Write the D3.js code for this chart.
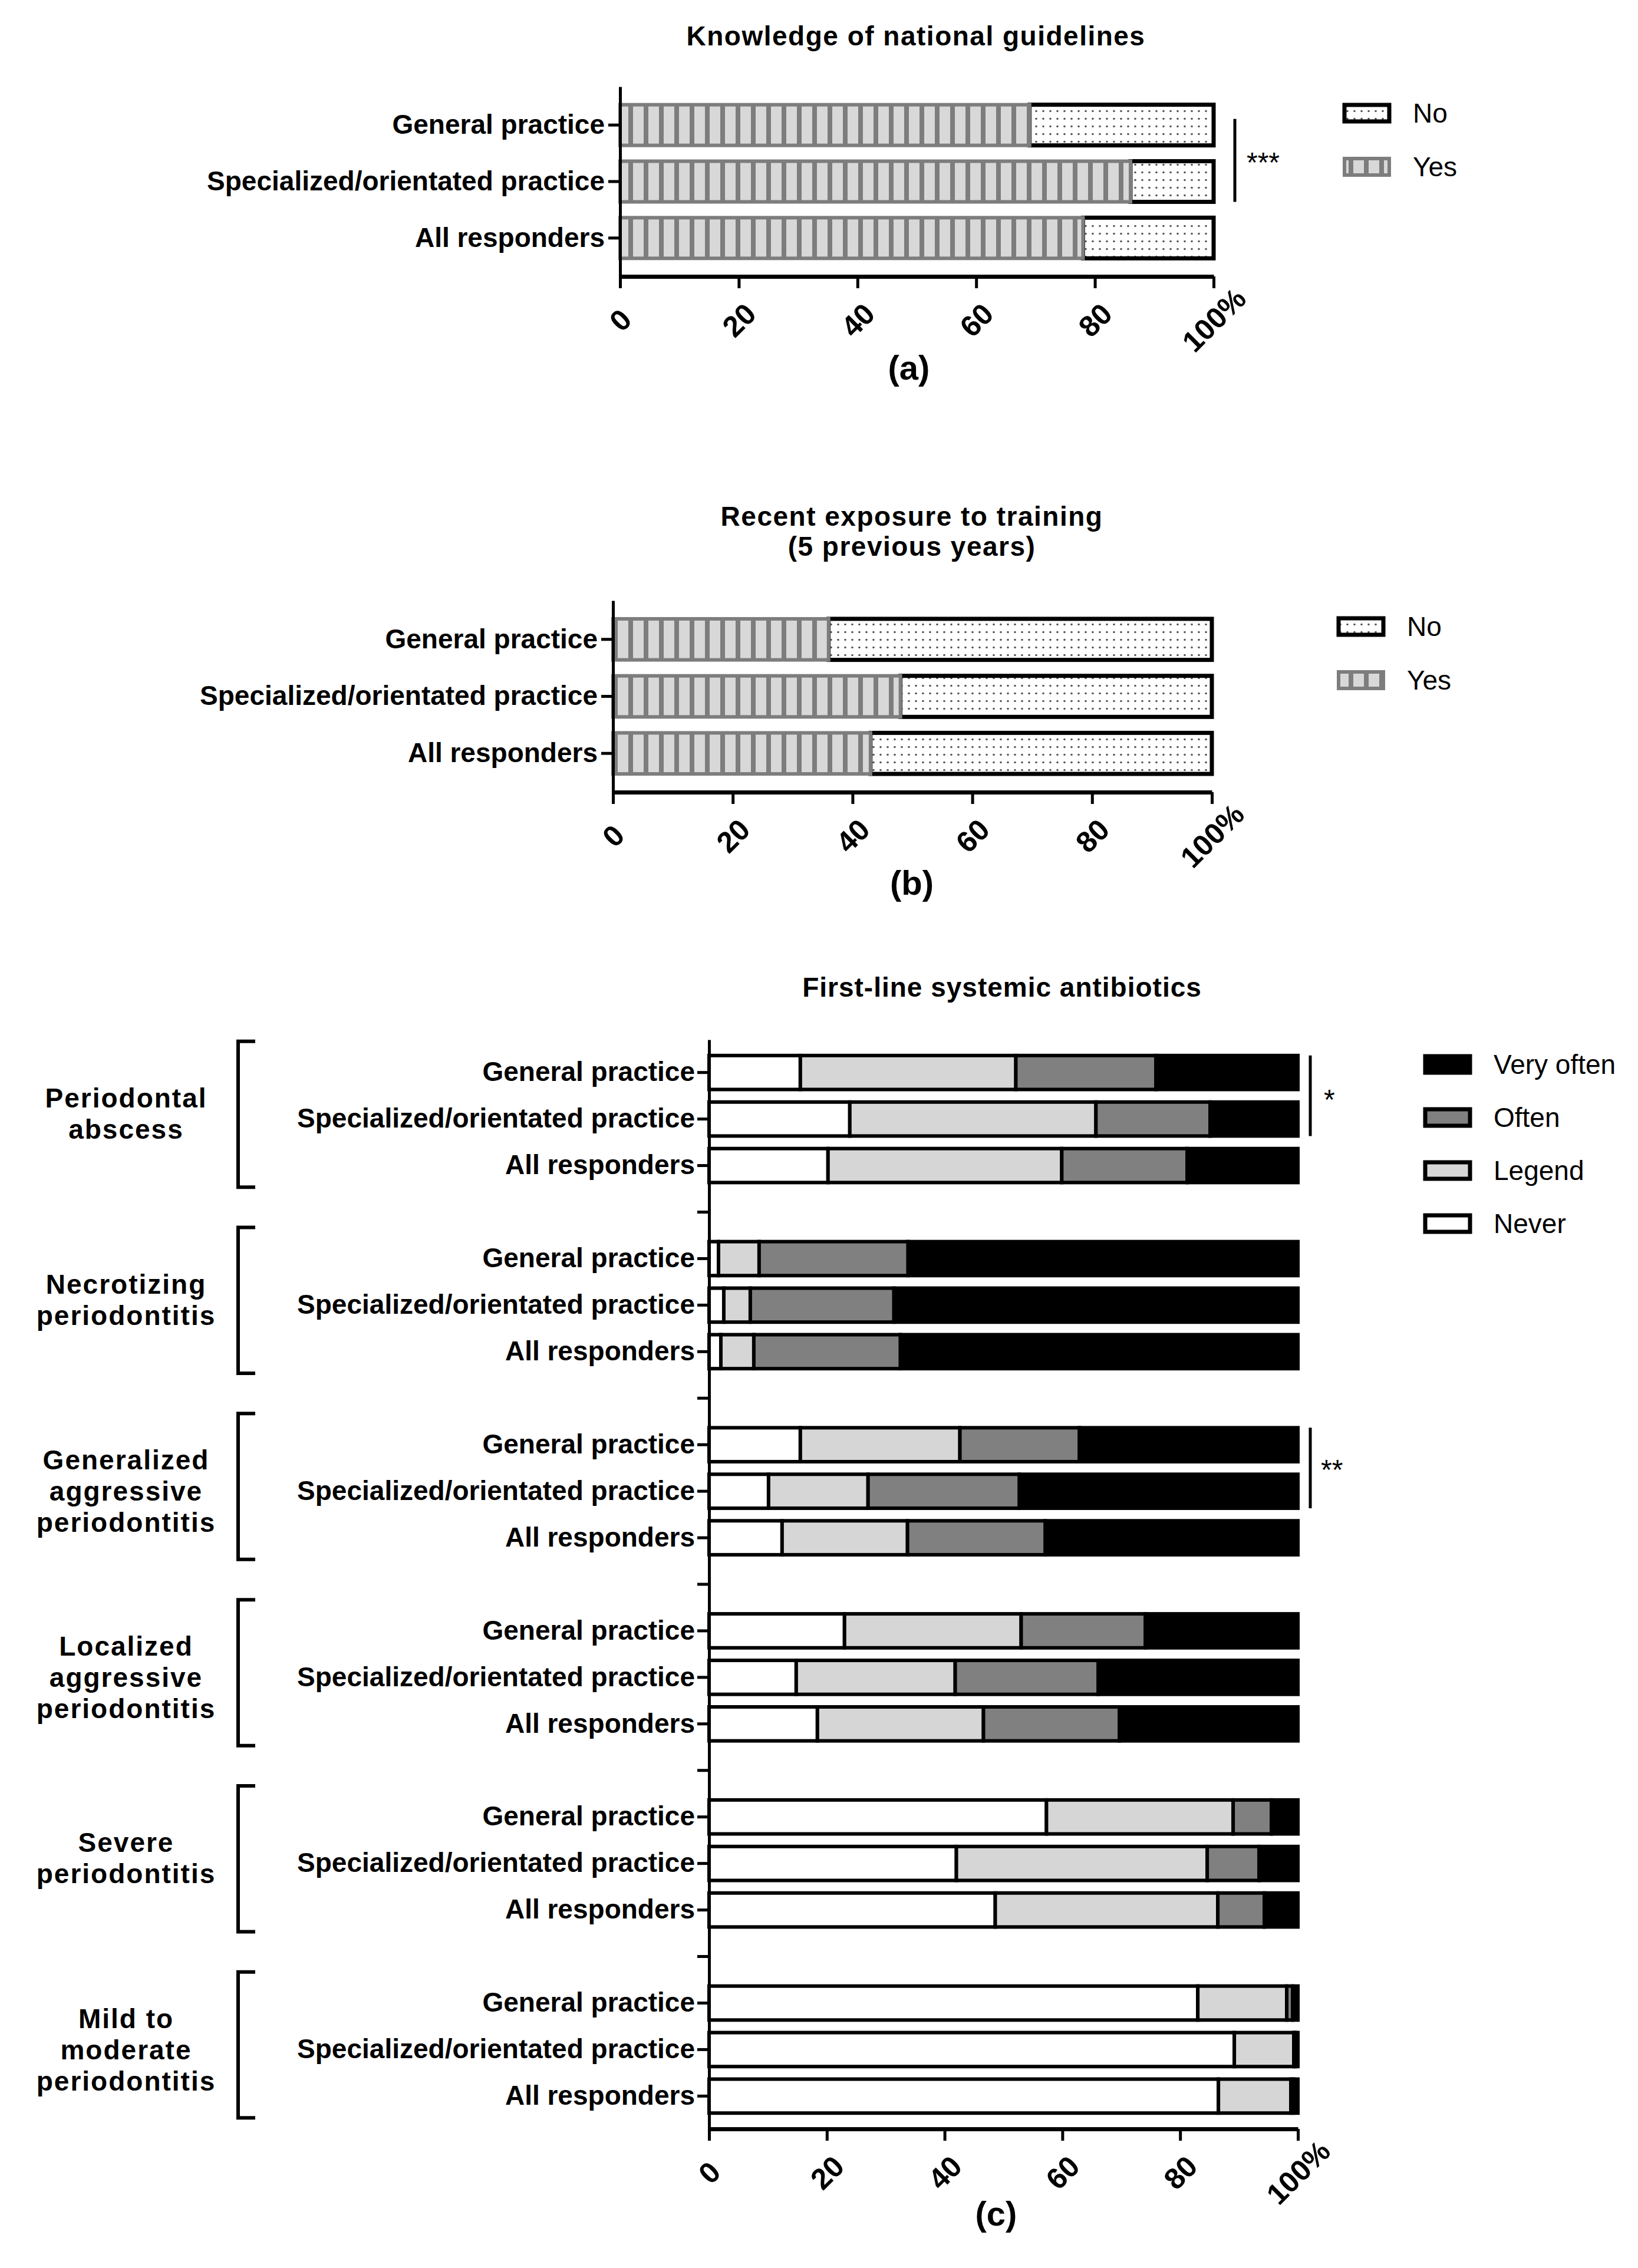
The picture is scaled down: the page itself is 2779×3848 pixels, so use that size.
<!DOCTYPE html>
<html>
<head>
<meta charset="utf-8">
<script src="https://cdn.jsdelivr.net/npm/d3@7"></script>
<style>
body{margin:0;background:#fff}
svg{display:block}
text{font-family:"Liberation Sans",Arial,Helvetica,sans-serif}
</style>
</head>
<body>
<svg id="chart" width="2779" height="3848"></svg>
<script>
// ---------------- DATA ----------------
const respondentGroups = ["General practice", "Specialized/orientated practice", "All responders"];
const knowledgeYes = [69, 86, 78];
const knowledgeNo  = [31, 14, 22];
const trainingYes  = [36, 48, 43];
const trainingNo   = [64, 52, 57];
const xTickValues = [0, 20, 40, 60, 80, 100];
const xTickLabels = ["0", "20", "40", "60", "80", "100%"];
const yesNoKeys = ["Yes", "No"];

const conditionLabels = [
  ["Periodontal", "abscess"],
  ["Necrotizing", "periodontitis"],
  ["Generalized", "aggressive", "periodontitis"],
  ["Localized", "aggressive", "periodontitis"],
  ["Severe", "periodontitis"],
  ["Mild to", "moderate", "periodontitis"]
];
const freqKeys = ["Never", "Legend", "Often", "Very often"];
// order: for each condition -> General practice, Specialized, All responders
const neverVals     = [15.5, 23.9, 20.2,  1.6,  2.5,  2.0, 15.5, 10.1, 12.4, 23.0, 14.8, 18.4, 57.3, 42.0, 48.6, 83.0, 89.2, 86.5];
const legendVals    = [36.6, 41.8, 39.7,  6.9,  4.5,  5.6, 27.1, 16.9, 21.3, 30.0, 27.0, 28.2, 31.7, 42.6, 37.8, 15.1, 10.1, 12.3];
const oftenVals     = [23.8, 19.4, 21.3, 25.3, 24.4, 24.9, 20.3, 25.7, 23.4, 21.1, 24.3, 23.1,  6.5,  8.8,  7.9,  1.0,  0.3,  0.5];
const veryOftenVals = [24.1, 14.9, 18.8, 66.2, 68.6, 67.5, 37.1, 47.3, 42.9, 25.9, 33.9, 30.3,  4.5,  6.6,  5.7,  0.9,  0.4,  0.7];

// ---------------- SETUP ----------------
const FONT = '"Liberation Sans",Arial,Helvetica,sans-serif';
const svg = d3.select("#chart");
svg.append("rect").attr("width", 2779).attr("height", 3848).attr("fill", "#fff");
const defs = svg.append("defs");

const stripes = defs.append("pattern").attr("id", "stripes")
  .attr("patternUnits", "userSpaceOnUse").attr("width", 26).attr("height", 20);
stripes.append("rect").attr("width", 26).attr("height", 20).attr("fill", "#d8d8d8");
stripes.append("rect").attr("width", 8).attr("height", 20).attr("fill", "#7d7d7d");

const dots = defs.append("pattern").attr("id", "dots")
  .attr("patternUnits", "userSpaceOnUse").attr("width", 12).attr("height", 13);
dots.append("rect").attr("width", 12).attr("height", 13).attr("fill", "#fff");
dots.append("circle").attr("cx", 6).attr("cy", 6.5).attr("r", 1.8).attr("fill", "#555");

function styleAxis(g, domainW, tickW) {
  g.attr("font-family", FONT).attr("font-size", 46).attr("font-weight", "bold");
  g.select(".domain").attr("stroke", "#000").attr("stroke-width", domainW);
  g.selectAll(".tick line").attr("stroke", "#000").attr("stroke-width", tickW);
  g.selectAll(".tick text").attr("fill", "#000");
}

function drawXAxis(x, yPos) {
  const g = svg.append("g").attr("transform", `translate(0,${yPos})`)
    .call(d3.axisBottom(x).tickValues(xTickValues)
      .tickFormat((d, i) => xTickLabels[i]).tickSize(20).tickSizeOuter(0));
  styleAxis(g, 7, 5);
  g.selectAll(".tick text")
    .attr("font-size", 50)
    .attr("y", 0).attr("dy", "0.35em").attr("text-anchor", "middle")
    .attr("transform", "translate(0,74) rotate(-45)");
  return g;
}

function text(x, y, str, opts = {}) {
  return svg.append("text").attr("x", x).attr("y", y)
    .attr("font-size", opts.size || 46)
    .attr("font-weight", opts.weight || "bold")
    .attr("text-anchor", opts.anchor || "middle")
    .attr("letter-spacing", opts.ls || 0)
    .attr("fill", "#000")
    .text(str);
}

// ---------------- PANELS (a) & (b) ----------------
function drawYesNo(cfg) {
  const x = d3.scaleLinear().domain([0, 100]).range([cfg.x0, cfg.x1]);
  const y = d3.scaleBand().domain(respondentGroups).range([cfg.yTop, cfg.yBot])
    .paddingInner(0.28).paddingOuter(0.32);
  const rows = respondentGroups.map((gname, i) => ({ group: gname, Yes: cfg.yes[i], No: cfg.no[i] }));
  const series = d3.stack().keys(yesNoKeys)(rows);

  // No segments (drawn first, black outline, dotted)
  svg.append("g").selectAll("rect").data(series[1]).join("rect")
    .attr("x", d => x(d[0])).attr("width", d => x(d[1]) - x(d[0]))
    .attr("y", d => y(d.data.group)).attr("height", y.bandwidth())
    .attr("fill", "url(#dots)").attr("stroke", "#000").attr("stroke-width", 7);
  // Yes segments (grey striped)
  svg.append("g").selectAll("rect").data(series[0]).join("rect")
    .attr("x", d => x(d[0])).attr("width", d => x(d[1]) - x(d[0]))
    .attr("y", d => y(d.data.group)).attr("height", y.bandwidth())
    .attr("fill", "url(#stripes)").attr("stroke", "#7d7d7d").attr("stroke-width", 6);

  const gy = svg.append("g").attr("transform", `translate(${cfg.x0},0)`)
    .call(d3.axisLeft(y).tickSize(20).tickSizeOuter(0).tickPadding(6));
  styleAxis(gy, 5, 5);
  drawXAxis(x, cfg.yBot);

  // titles
  cfg.title.forEach((t, i) => text(cfg.titleX, cfg.titleY + i * 51, t, { ls: 1.5 }).attr("dy", "0.35em"));
  // panel label
  text(cfg.labelX, cfg.labelY, cfg.label, { size: 58 }).attr("dy", "0.35em");

  // legend
  const legendItems = [
    { key: "No", fill: "url(#dots)", stroke: "#000", sw: 7 },
    { key: "Yes", fill: "url(#stripes)", stroke: "#7d7d7d", sw: 6 }
  ];
  legendItems.forEach((it, i) => {
    const cy = cfg.legendY + i * 91;
    svg.append("rect").attr("x", cfg.legendX).attr("y", cy - 14).attr("width", 76).attr("height", 28)
      .attr("fill", it.fill).attr("stroke", it.stroke).attr("stroke-width", it.sw);
    text(cfg.legendX + 116, cy, it.key, { weight: "normal", anchor: "start" }).attr("dy", "0.35em");
  });

  // significance
  if (cfg.sig) {
    svg.append("line").attr("x1", cfg.sigX).attr("x2", cfg.sigX)
      .attr("y1", y(respondentGroups[0]) + 24).attr("y2", y(respondentGroups[1]) + y.bandwidth())
      .attr("stroke", "#000").attr("stroke-width", 5);
    text(cfg.sigX + 20, cfg.sigTextY + 25, cfg.sig, { weight: "normal", anchor: "start", size: 48 });
  }
}

drawYesNo({
  x0: 1052, x1: 2059, yTop: 147, yBot: 469,
  yes: knowledgeYes, no: knowledgeNo,
  title: ["Knowledge of national guidelines"], titleX: 1554, titleY: 61,
  label: "(a)", labelX: 1542, labelY: 624,
  legendX: 2281, legendY: 192,
  sig: "***", sigX: 2095, sigTextY: 267
});

drawYesNo({
  x0: 1040, x1: 2056, yTop: 1019, yBot: 1344,
  yes: trainingYes, no: trainingNo,
  title: ["Recent exposure to training", "(5 previous years)"], titleX: 1547, titleY: 876,
  label: "(b)", labelX: 1547, labelY: 1498,
  legendX: 2271, legendY: 1063
});

// ---------------- PANEL (c) ----------------
(function () {
  const x0 = 1203, x1 = 2202, yTop = 1764, yBot = 3612;
  const x = d3.scaleLinear().domain([0, 100]).range([x0, x1]);
  const slots = [];
  conditionLabels.forEach((c, gi) => {
    respondentGroups.forEach((r, ri) => slots.push({ key: `${gi}-${ri}`, label: r }));
    if (gi < conditionLabels.length - 1) slots.push({ key: `gap${gi}`, label: "" });
  });
  const y = d3.scaleBand().domain(slots.map(s => s.key)).range([yTop, yBot])
    .paddingInner(0.27).paddingOuter(0.34);
  const labelOf = new Map(slots.map(s => [s.key, s.label]));

  const rows = [];
  conditionLabels.forEach((c, gi) => respondentGroups.forEach((r, ri) => {
    const i = gi * 3 + ri;
    rows.push({ key: `${gi}-${ri}`, "Never": neverVals[i], "Legend": legendVals[i], "Often": oftenVals[i], "Very often": veryOftenVals[i] });
  }));
  const color = d3.scaleOrdinal().domain(freqKeys).range(["#ffffff", "#d6d6d6", "#808080", "#000000"]);
  const series = d3.stack().keys(freqKeys)(rows);

  svg.append("g").selectAll("g").data(series).join("g")
    .attr("fill", s => color(s.key))
    .selectAll("rect").data(s => s).join("rect")
    .attr("x", d => x(d[0])).attr("width", d => Math.max(0, x(d[1]) - x(d[0])))
    .attr("y", d => y(d.data.key)).attr("height", y.bandwidth())
    .attr("stroke", "#000").attr("stroke-width", 6);

  const gy = svg.append("g").attr("transform", `translate(${x0},0)`)
    .call(d3.axisLeft(y).tickSize(20).tickSizeOuter(0).tickPadding(4).tickFormat(k => labelOf.get(k)));
  styleAxis(gy, 5, 5);
  drawXAxis(x, yBot);

  text(1700, 1675, "First-line systemic antibiotics", { ls: 1 }).attr("dy", "0.35em");
  text(1690, 3756, "(c)", { size: 58 }).attr("dy", "0.35em");

  // group brackets + labels
  conditionLabels.forEach((lines, gi) => {
    const top = y(`${gi}-0`) - 24;
    const bot = y(`${gi}-2`) + y.bandwidth() + 8;
    svg.append("path")
      .attr("d", `M433,${top} H404 V${bot} H433`)
      .attr("fill", "none").attr("stroke", "#000").attr("stroke-width", 6);
    const mid = y(`${gi}-1`) + y.bandwidth() / 2;
    const lh = 53;
    const start = mid - (lines.length - 1) * lh / 2 - (lines.length === 2 ? 9 : 0);
    lines.forEach((ln, li) => text(214, start + li * lh, ln, { ls: 2 }).attr("dy", "0.35em"));
  });

  // legend
  const legendOrder = ["Very often", "Often", "Legend", "Never"];
  legendOrder.forEach((k, i) => {
    const cy = 1806 + i * 90;
    svg.append("rect").attr("x", 2418).attr("y", cy - 14).attr("width", 76).attr("height", 28)
      .attr("fill", color(k)).attr("stroke", "#000").attr("stroke-width", 7);
    text(2534, cy, k, { weight: "normal", anchor: "start" }).attr("dy", "0.35em");
  });

  // significance marks
  const sigs = [{ g: 0, mark: "*", tx: 2246, ty: 1857 }, { g: 2, mark: "**", tx: 2241, ty: 2485 }];
  sigs.forEach(s => {
    svg.append("line").attr("x1", 2223).attr("x2", 2223)
      .attr("y1", y(`${s.g}-0`)).attr("y2", y(`${s.g}-1`) + y.bandwidth())
      .attr("stroke", "#000").attr("stroke-width", 5);
    text(s.tx, s.ty + 25, s.mark, { weight: "normal", anchor: "start", size: 48 });
  });
})();
</script>
</body>
</html>
